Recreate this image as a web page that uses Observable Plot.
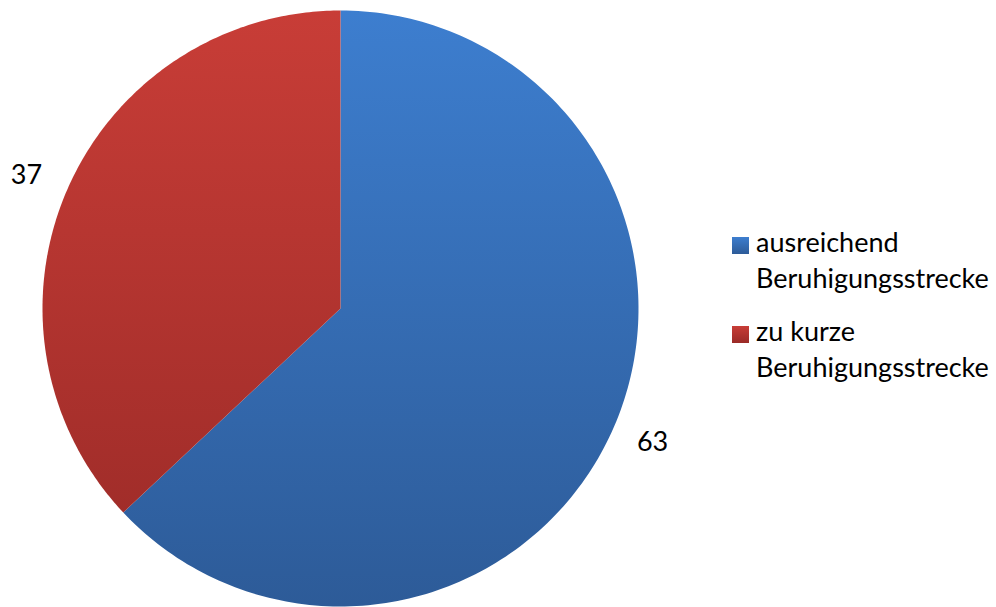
<!DOCTYPE html>
<html><head><meta charset="utf-8">
<script src="https://cdn.jsdelivr.net/npm/d3@7"></script>
<script src="https://cdn.jsdelivr.net/npm/@observablehq/plot@0.6"></script>
<style>
html,body{margin:0;padding:0;background:#fff;}
#wrap{position:relative;width:996px;height:607px;font-family:Lato,"Open Sans",sans-serif;}
#legend{position:absolute;left:732px;top:224px;font-size:27px;color:#000;line-height:36px;white-space:nowrap;}
.item{position:relative;padding-left:24px;margin-bottom:17px;}
.sw{position:absolute;left:0;top:13px;width:17px;height:17px;}
</style></head>
<body><div id="wrap"><div id="legend"></div></div>
<script>
const categories = ["ausreichend Beruhigungsstrecke", "zu kurze Beruhigungsstrecke"];
const legendLines = [["ausreichend", "Beruhigungsstrecke"], ["zu kurze", "Beruhigungsstrecke"]];
const values = [63, 37];
const gradIds = ["gBlue", "gRed"];
const gradStops = [["#3d7ecf", "#2d5b98"], ["#c83d37", "#9a2a27"]];

const pie = d3.pie().sort(null).value(d => d.value)(categories.map((c, i) => ({cat: c, value: values[i], i})));
const pts = [];
pie.forEach(a => {
  const n = 200;
  pts.push({i: a.data.i, u: 0, v: 0});
  for (let k = 0; k <= n; k++) {
    const t = a.startAngle + (a.endAngle - a.startAngle) * k / n;
    pts.push({i: a.data.i, u: Math.sin(t), v: Math.cos(t)});
  }
  pts.push({i: a.data.i, u: 0, v: 0});
});
const labels = pie.map(a => {
  const m = (a.startAngle + a.endAngle) / 2;
  return {u: Math.sin(m) * 1.04, v: Math.cos(m) * 1.04, text: String(a.data.value), side: Math.sin(m) < 0 ? "end" : "start"};
});

const chart = Plot.plot({
  width: 996, height: 607,
  margin: 0,
  x: {domain: [-340/298, 656/298], axis: null},
  y: {domain: [-299/298, 308/298], axis: null},
  style: {fontFamily: "Lato, 'Open Sans', sans-serif", background: "#fff"},
  marks: [
    () => {
      const svgNS = "http://www.w3.org/2000/svg";
      const defs = document.createElementNS(svgNS, "defs");
      gradIds.forEach((id, i) => {
        const g = document.createElementNS(svgNS, "linearGradient");
        g.setAttribute("id", id);
        g.setAttribute("gradientUnits", "userSpaceOnUse");
        g.setAttribute("x1", "0"); g.setAttribute("x2", "0");
        g.setAttribute("y1", "10"); g.setAttribute("y2", "606");
        [0, 1].forEach(o => {
          const s = document.createElementNS(svgNS, "stop");
          s.setAttribute("offset", o);
          s.setAttribute("stop-color", gradStops[i][o]);
          g.appendChild(s);
        });
        defs.appendChild(g);
      });
      return defs;
    },
    Plot.line(pts, {x: "u", y: "v", z: "i", fill: d => `url(#${gradIds[d.i]})`, stroke: "none", curve: "linear"}),
    Plot.text(labels.filter(d => d.side === "end"), {x: "u", y: "v", text: "text", textAnchor: "end", fontSize: 27, fill: "#000", dx: -14, dy: -10}),
    Plot.text(labels.filter(d => d.side === "start"), {x: "u", y: "v", text: "text", textAnchor: "start", fontSize: 27, fill: "#000", dx: 12, dy: 11})
  ]
});
document.getElementById("wrap").prepend(chart);
const lg = document.getElementById("legend");
legendLines.forEach((lines, i) => {
  const d = document.createElement("div");
  d.className = "item";
  d.innerHTML = `<span class="sw" style="background:linear-gradient(${gradStops[i][0]},${gradStops[i][1]})"></span>${lines.join("<br>")}`;
  lg.appendChild(d);
});
</script></body></html>
